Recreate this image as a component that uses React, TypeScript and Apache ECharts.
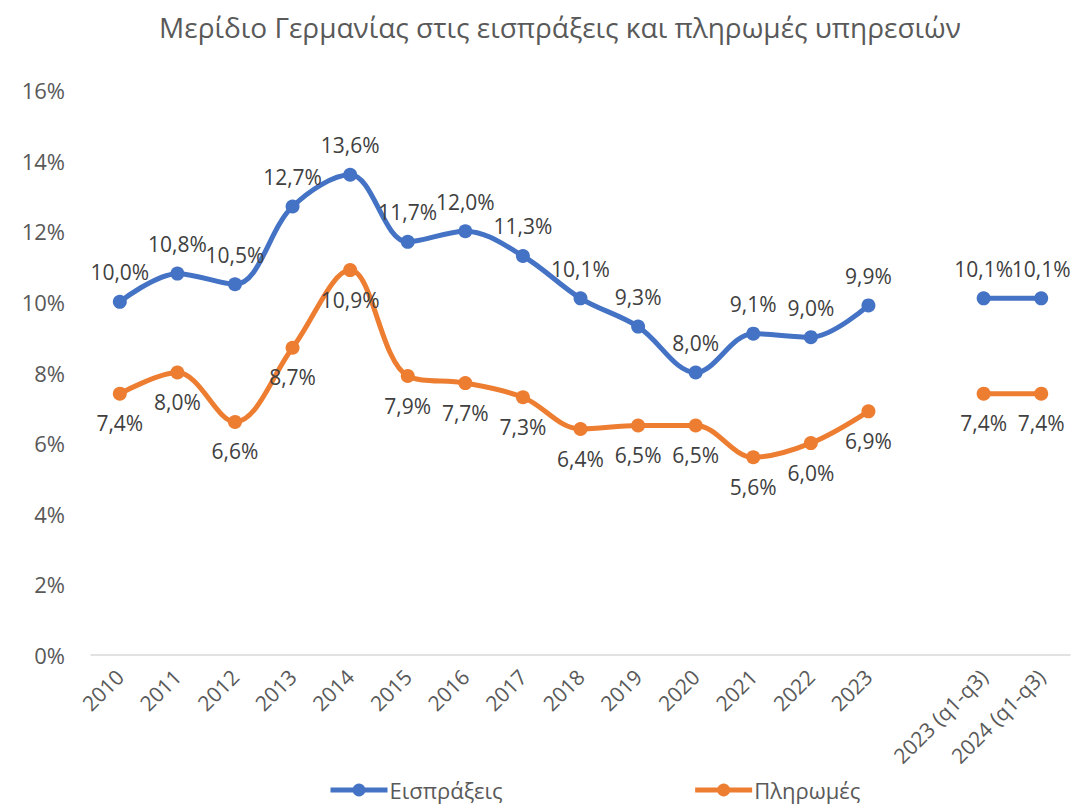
import React, { useEffect, useRef } from "react";
import * as echarts from "echarts";

const categories = [
  "2010", "2011", "2012", "2013", "2014", "2015", "2016", "2017", "2018",
  "2019", "2020", "2021", "2022", "2023", "", "2023 (q1-q3)", "2024 (q1-q3)",
];
const receipts: (number | null)[] = [
  10.0, 10.8, 10.5, 12.7, 13.6, 11.7, 12.0, 11.3, 10.1, 9.3, 8.0, 9.1, 9.0, 9.9, null, 10.1, 10.1,
];
const payments: (number | null)[] = [
  7.4, 8.0, 6.6, 8.7, 10.9, 7.9, 7.7, 7.3, 6.4, 6.5, 6.5, 5.6, 6.0, 6.9, null, 7.4, 7.4,
];
const seriesNames = ["Εισπράξεις", "Πληρωμές"];
const titleText = "Μερίδιο Γερμανίας στις εισπράξεις και πληρωμές υπηρεσιών";

const FONT = "'Open Sans', 'Noto Sans', sans-serif";
const fmt = (v: number) => v.toFixed(1).replace(".", ",") + "%";

export default function App() {
  const ref = useRef<HTMLDivElement>(null);
  useEffect(() => {
    document.body.style.margin = "0";
    if (!ref.current) return;
    const chart = echarts.init(ref.current, null, { renderer: "svg" });
    const mkSeries = (name: string, data: (number | null)[], color: string, pos: "top" | "bottom") => ({
      name,
      type: "line",
      data,
      smooth: 0.35,
      connectNulls: false,
      symbol: "circle",
      symbolSize: 14,
      lineStyle: { width: 5, color },
      itemStyle: { color },
      label: {
        show: true,
        position: pos,
        distance: 12,
        color: "#404040",
        fontSize: 21,
        fontFamily: FONT,
        formatter: (p: any) => fmt(p.value),
      },
    });
    chart.setOption({
      animation: false,
      backgroundColor: "#ffffff",
      title: {
        text: titleText,
        left: 555,
        top: 8,
        textAlign: "center",
        textStyle: { color: "#595959", fontSize: 28, fontWeight: "normal", fontFamily: FONT },
      },
      legend: {
        bottom: 2,
        left: 323,
        itemGap: 190,
        itemWidth: 57,
        itemHeight: 16,
        lineStyle: { width: 5 },
        textStyle: { color: "#595959", fontSize: 22, fontFamily: FONT, padding: [0, 0, 0, -3] },
        data: seriesNames,
      },
      grid: { left: 91, right: 13, top: 90, bottom: 153, containLabel: false },
      xAxis: {
        type: "category",
        data: categories,
        boundaryGap: true,
        axisTick: { show: false },
        axisLine: { lineStyle: { color: "#D9D9D9", width: 1.5 } },
        axisLabel: {
          interval: 0,
          rotate: 45,
          margin: 18,
          color: "#595959",
          fontSize: 21,
          fontFamily: FONT,
        },
      },
      yAxis: {
        type: "value",
        min: 0,
        max: 16,
        interval: 2,
        splitLine: { show: false },
        axisLine: { show: false },
        axisTick: { show: false },
        axisLabel: {
          formatter: "{value}%",
          margin: 26,
          color: "#595959",
          fontSize: 22,
          fontFamily: FONT,
        },
      },
      series: [
        mkSeries(seriesNames[0], receipts, "#4472C4", "top"),
        mkSeries(seriesNames[1], payments, "#ED7D31", "bottom"),
      ],
    });
    return () => chart.dispose();
  }, []);
  return <div ref={ref} style={{ width: 1083, height: 808 }} />;
}
